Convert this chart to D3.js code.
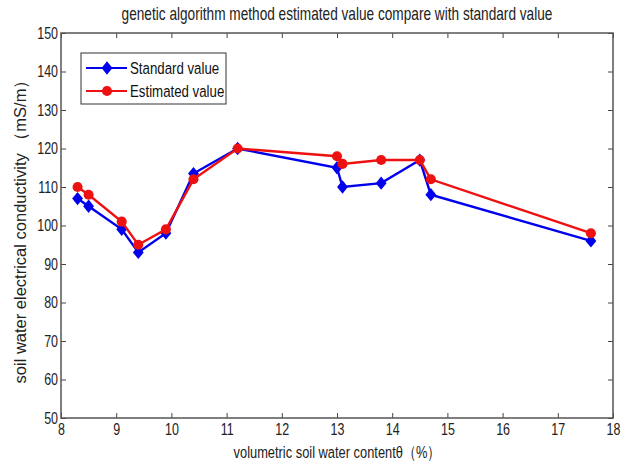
<!DOCTYPE html>
<html>
<head>
<meta charset="utf-8">
<script src="https://cdn.jsdelivr.net/npm/d3@7"></script>
<style>
  body { margin: 0; background: #fff; }
</style>
</head>
<body>
<div id="chart"></div>
<script>
const moisture = [8.3, 8.5, 9.1, 9.4, 9.9, 10.4, 11.2, 13.0, 13.1, 13.8, 14.5, 14.7, 17.6];
const standardValues = [107, 105, 99, 93, 98, 113.5, 120, 115, 110, 111, 117, 108, 96];
const estimatedValues = [110, 108, 101, 95, 99, 112, 120, 118, 116, 117, 117, 112, 98];
const xTicks = [8, 9, 10, 11, 12, 13, 14, 15, 16, 17, 18];
const yTicks = [50, 60, 70, 80, 90, 100, 110, 120, 130, 140, 150];

const series = [
  {name: 'Standard value', values: standardValues, color: '#0000ee', shape: 'diamond'},
  {name: 'Estimated value', values: estimatedValues, color: '#ee1111', shape: 'circle'}
];

const W = 624, H = 461;
const margin = {top: 33, right: 11, bottom: 43, left: 61};
const width = W - margin.left - margin.right;
const height = H - margin.top - margin.bottom;
const narrow = 0.78; // horizontal squeeze to mimic the condensed matlab font

const svg = d3.select('#chart').append('svg')
  .attr('width', W).attr('height', H)
  .style('font-family', '"Liberation Sans", Arial, sans-serif');

const g = svg.append('g').attr('transform', `translate(${margin.left},${margin.top})`);

const x = d3.scaleLinear().domain([8, 18]).range([0, width]);
const y = d3.scaleLinear().domain([50, 150]).range([height, 0]);

// axes, ticks pointing inwards like matlab
const axisStyle = (sel) => {
  sel.select('.domain').remove();
  sel.selectAll('.tick line').attr('stroke', '#444');
  sel.selectAll('.tick text').attr('fill', '#222').style('font-size', '16px');
};
g.append('g').attr('transform', `translate(0,${height})`)
  .call(d3.axisBottom(x).tickValues(xTicks).tickSize(-5).tickPadding(6))
  .call(axisStyle)
  .selectAll('.tick text').attr('transform', `scale(${narrow},1)`);
g.append('g')
  .call(d3.axisLeft(y).tickValues(yTicks).tickSize(-5).tickPadding(4))
  .call(axisStyle)
  .selectAll('.tick text')
  .attr('x', -3 / narrow)
  .attr('transform', `scale(${narrow},1)`);
g.append('g')
  .call(d3.axisTop(x).tickValues(xTicks).tickSize(-5).tickFormat(''))
  .call(axisStyle);
g.append('g').attr('transform', `translate(${width},0)`)
  .call(d3.axisRight(y).tickValues(yTicks).tickSize(-5).tickFormat(''))
  .call(axisStyle);

g.append('rect')
  .attr('width', width).attr('height', height)
  .attr('fill', 'none').attr('stroke', '#555').attr('stroke-width', 1.5);

const line = d3.line().x(d => x(d[0])).y(d => y(d[1]));
const diamond = d3.symbol().type(d3.symbolDiamond).size(60);
const circle = d3.symbol().type(d3.symbolCircle).size(80);
const markerTf = (s) => s.shape === 'diamond' ? ' scale(1.3,0.92)' : '';

series.forEach(s => {
  const pts = moisture.map((m, i) => [m, s.values[i]]);
  g.append('path')
    .datum(pts)
    .attr('d', line)
    .attr('fill', 'none')
    .attr('stroke', s.color)
    .attr('stroke-width', 2.4);
  g.selectAll(null)
    .data(pts)
    .enter()
    .append('path')
    .attr('d', s.shape === 'diamond' ? diamond : circle)
    .attr('transform', d => `translate(${x(d[0])},${y(d[1])})` + markerTf(s))
    .attr('fill', s.color);
});

// legend
const legend = g.append('g').attr('transform', 'translate(20,20)');
legend.append('rect')
  .attr('width', 145).attr('height', 51)
  .attr('fill', '#fff').attr('stroke', '#333').attr('stroke-width', 1);
series.forEach((s, i) => {
  const ly = 15 + i * 23;
  legend.append('line')
    .attr('x1', 5).attr('x2', 46).attr('y1', ly).attr('y2', ly)
    .attr('stroke', s.color).attr('stroke-width', 2.2);
  legend.append('path')
    .attr('d', s.shape === 'diamond' ? diamond : circle)
    .attr('transform', `translate(26,${ly})` + markerTf(s))
    .attr('fill', s.color);
  legend.append('text')
    .attr('transform', `translate(49,${ly + 6}) scale(${narrow},1)`)
    .style('font-size', '17px')
    .attr('fill', '#111')
    .text(s.name);
});

// titles
svg.append('text')
  .attr('transform', `translate(${margin.left + width / 2},20) scale(${narrow},1)`)
  .attr('text-anchor', 'middle')
  .style('font-size', '17.5px')
  .attr('fill', '#222')
  .text('genetic algorithm method estimated value compare with standard value');

svg.append('text')
  .attr('transform', `translate(${margin.left + width / 2},458) scale(${narrow},1)`)
  .attr('text-anchor', 'middle')
  .style('font-size', '16.5px')
  .attr('fill', '#222')
  .text('volumetric soil water contentθ（%）');

svg.append('text')
  .attr('transform', `translate(26,${margin.top + height / 2 + 2}) rotate(-90)`)
  .attr('text-anchor', 'middle')
  .style('font-size', '16.5px')
  .attr('fill', '#222')
  .text('soil water electrical conductivity （mS/m）');
</script>
</body>
</html>
